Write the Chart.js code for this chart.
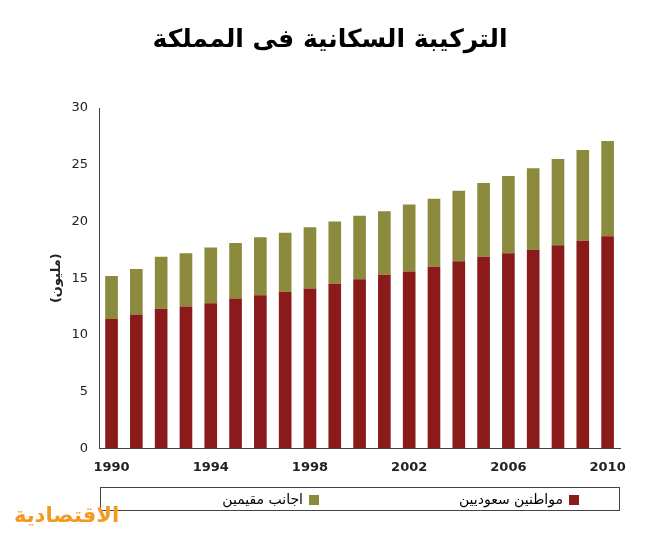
<!DOCTYPE html>
<html><head><meta charset="utf-8">
<script src="https://cdn.jsdelivr.net/npm/chart.js@4.4.1/dist/chart.umd.min.js"></script>
<style>
body{margin:0;background:#fff;font-family:"DejaVu Sans",sans-serif}
#wrap{position:absolute;left:0;top:0;width:660px;height:546px}
#title{position:absolute;top:24px;left:0;width:660px;text-align:center;font:bold 25px "DejaVu Sans";direction:rtl}
#legend{position:absolute;left:100px;top:487px;width:518px;height:22px;border:1px solid #444;direction:rtl;font:14px "DejaVu Sans"}
.it{position:absolute;top:3px}
.sw{display:inline-block;width:10px;height:10px;margin-left:6px;vertical-align:middle}
#logo{position:absolute;left:14px;top:503px;font:bold 21px "DejaVu Sans";color:#f39a1e;direction:rtl}
</style></head><body>
<div id="wrap"><canvas id="c" width="660" height="546"></canvas></div>
<div id="title">التركيبة السكانية فى المملكة</div>
<div id="legend">
<span class="it" style="right:40px"><span class="sw" style="background:#8b1a1a"></span>مواطنين سعوديين</span>
<span class="it" style="right:300px"><span class="sw" style="background:#8c8a3c"></span>اجانب مقيمين</span>
</div>
<div id="logo">الاقتصادية</div>
<script>
const years=[1990,1991,1992,1993,1994,1995,1996,1997,1998,1999,2000,2001,2002,2003,2004,2005,2006,2007,2008,2009,2010];
const saudi=[11.4,11.8,12.3,12.5,12.8,13.2,13.5,13.8,14.1,14.5,14.9,15.3,15.6,16.0,16.5,16.9,17.2,17.5,17.9,18.3,18.7];
const totals=[15.2,15.8,16.9,17.2,17.7,18.1,18.6,19.0,19.5,20.0,20.5,20.9,21.5,22.0,22.7,23.4,24.0,24.7,25.5,26.3,27.1];
const foreign=totals.map((t,i)=>+(t-saudi[i]).toFixed(2));
const yTicks=[0,5,10,15,20,25,30];
new Chart(document.getElementById('c'),{type:'bar',
data:{labels:years.map(String),datasets:[
{label:'مواطنين سعوديين',data:saudi,backgroundColor:'#8b1a1a',categoryPercentage:0.85,barPercentage:0.6},
{label:'اجانب مقيمين',data:foreign,backgroundColor:'#8c8a3c',categoryPercentage:0.85,barPercentage:0.6}]},
options:{responsive:false,animation:false,
layout:{padding:{left:45,right:40,top:108,bottom:68}},
plugins:{legend:{display:false},tooltip:{enabled:false}},
scales:{
x:{stacked:true,grid:{display:false,drawTicks:true},border:{color:'#444'},
ticks:{autoSkip:false,maxRotation:0,color:'#222',font:{size:13,weight:'bold',family:'DejaVu Sans'},
callback:(v,i)=>i%4===0?years[i]:''}},
y:{stacked:true,min:0,max:30,grid:{display:false},border:{color:'#444'},
afterBuildTicks:a=>{a.ticks=yTicks.map(v=>({value:v}))},
ticks:{color:'#222',font:{size:13,family:'DejaVu Sans'}},
title:{display:true,text:'(مليون)',color:'#222',font:{size:13,weight:'bold',family:'DejaVu Sans'}}}}}});
</script></body></html>
